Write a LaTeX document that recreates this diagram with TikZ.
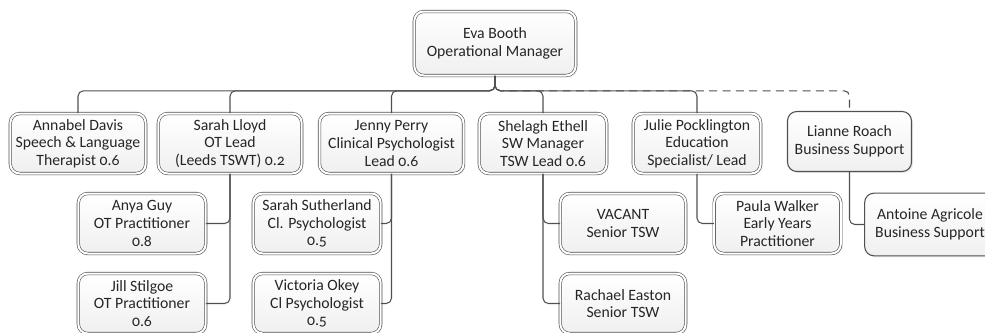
\documentclass[tikz,border=0pt]{standalone}
\usepackage{fontspec}
\setmainfont{Carlito}[Numbers=OldStyle]
\usetikzlibrary{shadows}

\definecolor{boxline}{HTML}{505050}
\definecolor{boxtext}{HTML}{262626}

\tikzset{
  person/.style={draw=boxline, double=white, double distance=1.5pt, line width=0.45pt,
    rounded corners=7pt, top color=white, bottom color=black!6, align=center,
    inner sep=1pt, text=boxtext, font=\fontsize{11.8}{13.2}\selectfont,
    drop shadow={opacity=0.15, shadow xshift=1.2pt, shadow yshift=-1.2pt}},
  helper/.style={person, double=none, line width=0.8pt},
  link/.style={draw=boxline, line width=0.8pt, rounded corners=4pt},
}

\begin{document}
\begin{tikzpicture}[x=0.75pt,y=-0.75pt]
  \useasboundingbox (0,0) rectangle (985,332);

  % top
  \node[person, minimum width=121pt, minimum height=48pt] (eva) at (495,43.5) {Eva Booth\\Operational Manager};

  % first row
  \node[person, minimum width=101.5pt, minimum height=45pt] (annabel) at (78,143.5) {Annabel Davis\\Speech \& Language\\Therapist 0.6};
  \node[person, minimum width=107.5pt, minimum height=45pt] (lloyd) at (230,143.5) {Sarah Lloyd\\OT Lead\\(Leeds TSWT) 0.2};
  \node[person, minimum width=108pt, minimum height=45pt] (perry) at (391.5,143.5) {Jenny Perry\\Clinical Psychologist\\Lead 0.6};
  \node[person, minimum width=95.5pt, minimum height=45pt] (ethell) at (543,143.5) {Shelagh Ethell\\SW Manager\\TSW Lead 0.6};
  \node[person, minimum width=95.5pt, minimum height=45pt] (pocklington) at (697,143.5) {Julie Pocklington\\Education\\Specialist/ Lead};
  \node[helper, minimum width=93pt, minimum height=45pt] (roach) at (849.5,141.5) {Lianne Roach\\Business Support};

  % second row
  \node[person, minimum width=95.5pt, minimum height=45pt] (anya) at (142,223.5) {Anya Guy\\OT Practitioner\\0.8};
  \node[person, minimum width=95.5pt, minimum height=45pt] (jill) at (142,303.5) {Jill Stilgoe\\OT Practitioner\\0.6};
  \node[person, minimum width=95.5pt, minimum height=45pt] (sutherland) at (317,223.5) {Sarah Sutherland\\Cl. Psychologist\\0.5};
  \node[person, minimum width=95.5pt, minimum height=45pt] (okey) at (317,303.5) {Victoria Okey\\Cl Psychologist\\0.5};
  \node[person, minimum width=94pt, minimum height=45pt] (vacant) at (623,223.5) {VACANT\\Senior TSW};
  \node[person, minimum width=94pt, minimum height=45pt] (rachael) at (623,303.5) {Rachael Easton\\Senior TSW};
  \node[person, minimum width=95pt, minimum height=45pt] (paula) at (777.5,223.5) {Paula Walker\\Early Years\\Practitioner};
  \node[helper, minimum width=98pt, minimum height=47pt] (antoine) at (930,224.5) {Antoine Agricole\\Business Support};

  % links
  \foreach \n in {annabel,lloyd,perry,ethell,pocklington}
    \draw[link] (eva.south) -- ++(0,15) -| (\n.north);
  \draw[link, dashed, dash pattern=on 6pt off 4pt] (eva.south) -- ++(0,15) -| (roach.north);

  \draw[link] (lloyd.south) |- (anya.east);
  \draw[link] (lloyd.south) |- (jill.east);
  \draw[link] (perry.south) |- (sutherland.east);
  \draw[link] (perry.south) |- (okey.east);
  \draw[link] (ethell.south) |- (vacant.west);
  \draw[link] (ethell.south) |- (rachael.west);
  \draw[link] (pocklington.south) |- (paula.west);
  \draw[link] (roach.south) |- (antoine.west);
\end{tikzpicture}
\end{document}
